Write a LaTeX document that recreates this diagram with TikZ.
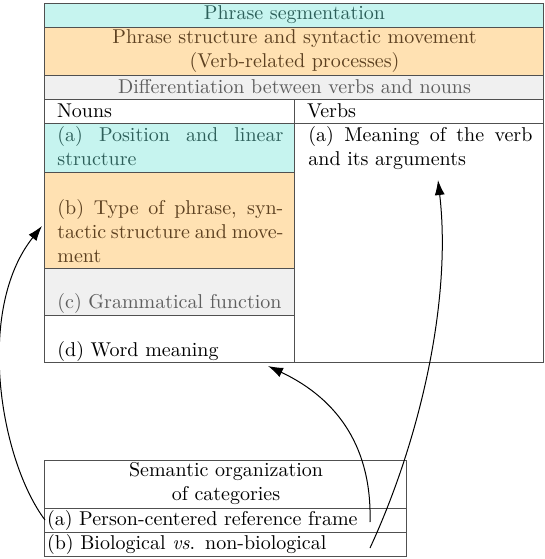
\documentclass[tikz,border=0pt]{standalone}
\usetikzlibrary{arrows.meta}
\definecolor{cyanF}{HTML}{C6F4EF}
\definecolor{cyanT}{HTML}{2D5F5A}
\definecolor{oraF}{HTML}{FFE1B2}
\definecolor{oraT}{HTML}{5C4020}
\definecolor{grayF}{HTML}{F0F0F0}
\definecolor{grayT}{HTML}{5E5E5E}
\definecolor{bordc}{HTML}{505050}
\begin{document}
\begin{tikzpicture}[x=0.5pt,y=-0.5pt,
  cell/.style={draw=bordc, line width=0.5pt, anchor=north west, inner sep=0pt, outer sep=0pt},
  ctext/.style={cell, align=center},
  ltext/.style={cell, align=left, inner xsep=6pt},
  ptext/.style={anchor=base west, inner sep=0pt},
  link/.style={draw=black, line width=0.5pt, -{Latex[length=7.5pt,width=5pt]}}]
\useasboundingbox (0,0) rectangle (545,559);
% top rows
\node[ctext, fill=cyanF, text=cyanT, minimum width=249.5pt, minimum height=12pt] (seg) at (45,3) {Phrase segmentation};
\node[ctext, fill=oraF, text=oraT, minimum width=249.5pt, minimum height=24pt] (psm) at (45,27) {Phrase structure and syntactic movement\\(Verb-related processes)};
\node[ctext, fill=grayF, text=grayT, minimum width=249.5pt, minimum height=12pt] (diff) at (45,75) {Differentiation between verbs and nouns};
\node[ltext, text width=113pt, minimum height=12pt] (nouns) at (45,99) {Nouns};
\node[ltext, text width=112.5pt, minimum height=12pt] (verbs) at (295,99) {Verbs};
% noun cells
\node[cell, fill=cyanF, minimum width=125pt, minimum height=24.5pt] (na) at (45,123) {};
\node[cell, fill=oraF, minimum width=125pt, minimum height=48pt] (nb) at (45,172) {};
\node[cell, fill=grayF, minimum width=125pt, minimum height=23.5pt] (nc) at (45,268) {};
\node[cell, minimum width=125pt, minimum height=23.5pt] (nd) at (45,315) {};
\node[cell, minimum width=124.5pt, minimum height=119.5pt] (va) at (295,123) {};
\node[ptext, text=cyanT] (nat) at (57,141) {\parbox[t]{113pt}{(a) Position and linear structure}};
\node[ptext, text=oraT] (nbt) at (57,262) {\parbox[b]{113pt}{(b) Type of phrase, syntactic structure and movement}};
\node[ptext, text=grayT] (nct) at (57,308) {\parbox[b]{113pt}{(c) Grammatical function}};
\node[ptext] (ndt) at (57,356) {\parbox[b]{113pt}{(d) Word meaning}};
\node[ptext] (vat) at (308,141) {\parbox[t]{112pt}{(a) Meaning of the verb and its arguments}};
% bottom box
\node[ctext, minimum width=181pt, minimum height=24pt] (sem) at (45,460) {Semantic organization\\of categories};
\node[cell, align=left, inner xsep=1pt, text width=179pt, minimum height=12pt] (sa) at (45,508) {(a) Person-centered reference frame};
\node[cell, align=left, inner xsep=1pt, text width=179pt, minimum height=12pt] (sb) at (45,532) {(b) Biological \emph{vs}. non-biological};
% connector ends
\coordinate (s2) at (370,522);
\coordinate (s3) at (370,548);
\coordinate (t2) at (268,366);
\coordinate (t3) at (438,180);
% connectors
\draw[link] (sa.west) .. controls (0,460) and (-25,310) .. ([xshift=-1.5pt,yshift=-3pt]nb.west);
\draw[link] (s2) .. controls (372,450) and (340,400) .. (t2);
\draw[link] (s3) .. controls (420,440) and (452,300) .. (t3);
\end{tikzpicture}
\end{document}
